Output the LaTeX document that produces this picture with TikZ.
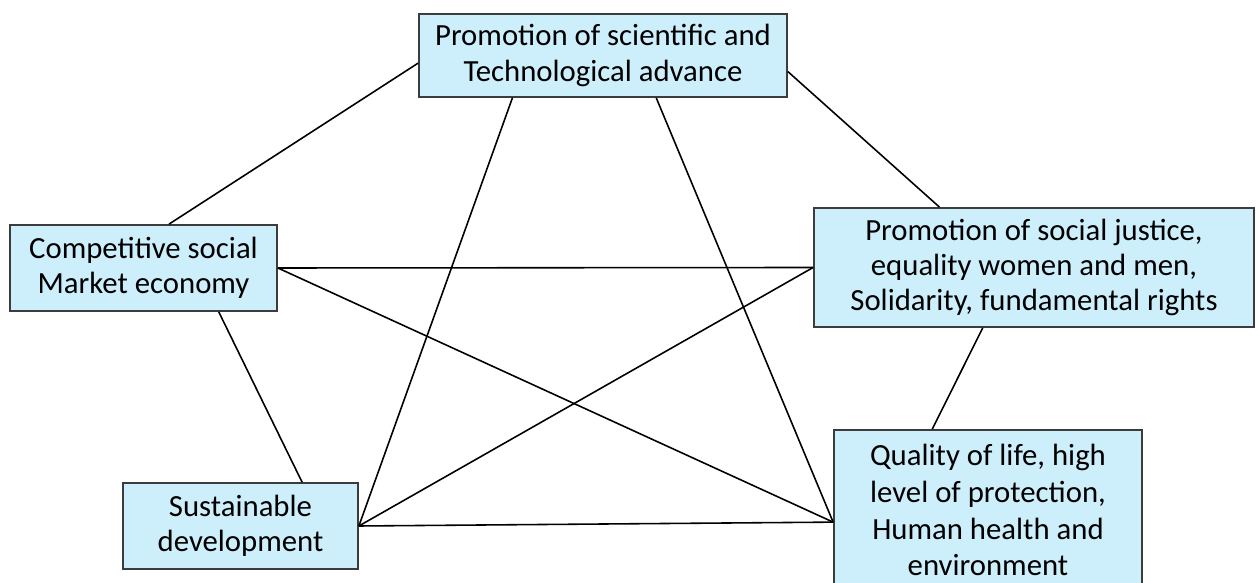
\documentclass[tikz,border=0pt]{standalone}
\usepackage{fontspec}
\setmainfont{Carlito}
\usepackage{xcolor}
\usepackage{tikz}
\usetikzlibrary{calc,positioning}
\definecolor{cFill}{HTML}{CDEFFC}
\definecolor{cEdge}{HTML}{3C3C3C}
\tikzset{
  box/.style ={draw=cEdge,fill=cFill,line width=1pt,align=center,
               inner sep=2pt,font=\fontsize{17.5}{20}\selectfont},
  link/.style={black,line width=0.9pt},
}

\begin{document}
\begin{tikzpicture}
  \useasboundingbox (0,0) rectangle (25.16,11.66);
  % boxes
  \node[box,minimum width=7.36cm,minimum height=1.66cm] (sci) at (12.06,10.55)
    {Promotion of scientific and\\Technological advance};
  \node[box,minimum width=5.34cm,minimum height=1.72cm] (market) at (2.87,6.30)
    {Competitive social\\Market economy};
  \node[box,minimum width=8.8cm,minimum height=2.38cm] (justice) at (20.68,6.31)
    {Promotion of social justice,\\equality women and men,\\Solidarity, fundamental rights};
  \node[box,minimum width=4.70cm,minimum height=1.72cm] (sustain) at (4.81,1.14)
    {Sustainable\\development};
  \node[box,minimum width=6.16cm,minimum height=3.2cm,
        font=\fontsize{17.5}{21}\selectfont] (life) at (19.76,1.46)
    {Quality of life, high\\level of protection,\\Human health and\\environment};
  % meeting points on the box edges
  \coordinate (lifeW) at ($(life.north west)!0.575!(life.south west)$);
  % outer ring
  \draw[link] ($(sci.north west)!0.59!(sci.south west)$) -- ($(market.north west)!0.595!(market.north east)$);
  \draw[link] ($(sci.north east)!0.69!(sci.south east)$) -- ($(justice.north west)!0.286!(justice.north east)$);
  \draw[link] ($(market.south west)!0.78!(market.south east)$) -- ($(sustain.north west)!0.76!(sustain.north east)$);
  \draw[link] (sustain.east) -- (lifeW);
  \draw[link] ($(justice.south west)!0.384!(justice.south east)$) -- ($(life.north west)!0.32!(life.north east)$);
  % inner star
  \draw[link] ($(sci.south west)!0.255!(sci.south east)$) -- (sustain.east);
  \draw[link] ($(sci.south west)!0.644!(sci.south east)$) -- (lifeW);
  \draw[link] (market.east) -- (justice.west);
  \draw[link] (market.east) -- (lifeW);
  \draw[link] (justice.west) -- (sustain.east);
\end{tikzpicture}
\end{document}
